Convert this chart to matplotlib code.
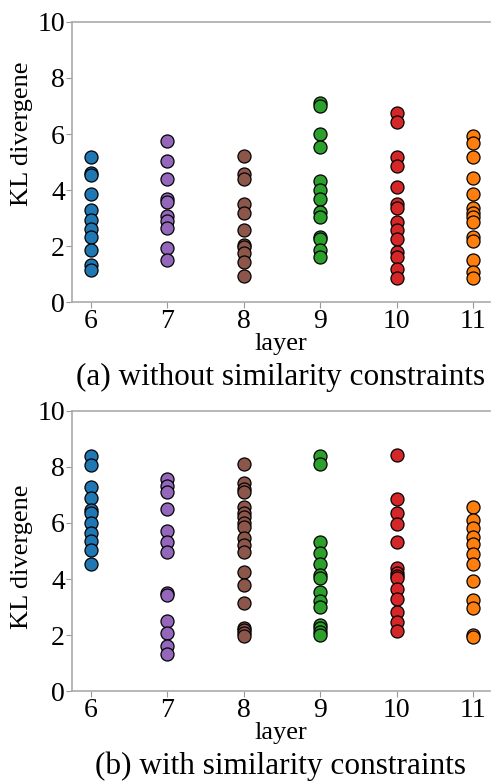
import numpy as np
import matplotlib.pyplot as plt

plt.rcParams['font.family'] = ['Liberation Serif', 'DejaVu Serif']

layers = [6, 7, 8, 9, 10, 11]
colors = ['tab:blue', 'tab:purple', 'tab:brown', 'tab:green', 'tab:red', 'tab:orange']

# (a) without similarity constraints
kl_a = [
    [5.19, 4.6, 4.55, 3.85, 3.29, 2.93, 2.63, 2.31, 1.88, 1.32, 1.14],
    [5.76, 5.02, 4.38, 3.67, 3.56, 3.07, 2.9, 2.64, 1.95, 1.5],
    [5.21, 4.57, 4.39, 3.5, 3.17, 2.57, 2.04, 1.98, 1.74, 1.42, 0.93],
    [7.12, 7.0, 5.99, 5.55, 4.32, 4.02, 3.7, 3.23, 3.05, 2.33, 2.24, 1.86, 1.62],
    [6.76, 6.44, 5.19, 4.87, 4.12, 3.52, 3.35, 2.87, 2.57, 2.24, 1.8, 1.62, 1.2, 0.85],
    [5.93, 5.67, 5.19, 4.42, 3.85, 3.35, 3.17, 3.05, 2.87, 2.31, 2.19, 1.52, 1.08, 0.87],
]

# (b) with similarity constraints
kl_b = [
    [8.4, 8.07, 7.27, 6.88, 6.46, 6.35, 5.99, 5.65, 5.36, 5.04, 4.54],
    [7.57, 7.33, 7.1, 6.5, 5.71, 5.33, 4.95, 3.51, 3.43, 2.51, 2.08, 1.62, 1.32],
    [8.11, 7.42, 7.2, 7.12, 6.58, 6.35, 6.23, 5.99, 5.87, 5.45, 5.2, 4.95, 4.26, 3.79, 3.13, 2.27, 2.18, 2.08, 1.96],
    [8.39, 8.11, 5.31, 4.94, 4.54, 4.14, 4.02, 3.55, 3.23, 3.01, 2.36, 2.24, 2.12, 2.0],
    [8.43, 6.85, 6.35, 5.96, 5.31, 4.38, 4.23, 4.11, 4.02, 3.63, 3.29, 2.81, 2.48, 2.15],
    [6.56, 6.11, 5.81, 5.51, 5.24, 4.89, 4.54, 3.94, 3.25, 2.95, 2.0, 1.92],
]

captions = ['(a) without similarity constraints', '(b) with similarity constraints']
ylabel_pos = [0.6, 0.48]

fig = plt.figure(figsize=(4.92, 7.81), dpi=100)
ax_a = fig.add_axes([0.146, 0.613, 0.85, 0.359])
ax_b = fig.add_axes([0.146, 0.115, 0.85, 0.359])

for ax, data, cap, yp in zip([ax_a, ax_b], [kl_a, kl_b], captions, ylabel_pos):
    for lay, vals, c in zip(layers, data, colors):
        ax.scatter(np.full(len(vals), lay), vals, s=88, color=c,
                   edgecolor='black', linewidth=0.9, zorder=3)
    ax.set_xlim(5.75, 11.22)
    ax.set_ylim(0, 10)
    ax.set_xticks(layers)
    ax.set_yticks([0, 2, 4, 6, 8, 10])
    ax.tick_params(labelsize=20, color='#999999', length=4, pad=1)
    for s in ['left', 'bottom', 'top']:
        ax.spines[s].set_color('#aaaaaa')
        ax.spines[s].set_linewidth(1.2)
    ax.spines['right'].set_visible(False)
    ax.set_xlabel('layer', fontsize=19, labelpad=-1)
    ax.set_ylabel('KL divergene', fontsize=19)
    ax.yaxis.set_label_coords(-0.093, yp)
    ax.text(0.5, -0.268, cap, transform=ax.transAxes, ha='center', va='center', fontsize=22.5)

fig.savefig('out.png', dpi=100)
